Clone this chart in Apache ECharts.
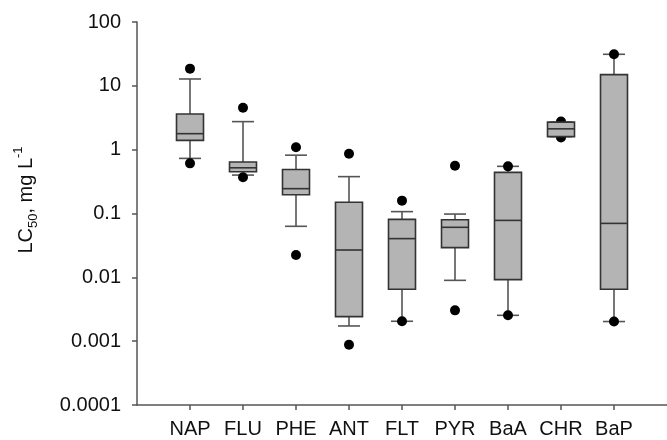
<!DOCTYPE html>
<html>
<head>
<meta charset="utf-8">
<script src="https://cdn.jsdelivr.net/npm/echarts@6/dist/echarts.min.js"></script>
<style>html,body{margin:0;padding:0;background:#fff;}#chart{width:667px;height:440px;}</style>
</head>
<body>
<div id="chart"></div>
<script>
const categories = ['NAP','FLU','PHE','ANT','FLT','PYR','BaA','CHR','BaP'];
const whiskerLow  = [0.73, 0.40, 0.063, 0.00173, 0.00205, 0.00897, 0.00254, 1.60, 0.00203];
const q1          = [1.40, 0.45, 0.197, 0.00242, 0.00649, 0.0292, 0.0092, 1.60, 0.00649];
const median      = [1.78, 0.52, 0.245, 0.0268, 0.0404, 0.0608, 0.078, 2.12, 0.070];
const q3          = [3.62, 0.64, 0.49, 0.150, 0.081, 0.080, 0.441, 2.70, 14.96];
const whiskerHigh = [12.8, 2.75, 0.82, 0.378, 0.107, 0.098, 0.548, 2.70, 31.2];
const outlierLow  = [0.61, 0.37, 0.0224, 0.00088, 0.00205, 0.00304, 0.00254, 1.55, 0.00203];
const outlierHigh = [18.6, 4.55, 1.09, 0.865, 0.159, 0.561, 0.548, 2.77, 31.2];
const yTickLabels = ['0.0001','0.001','0.01','0.1','1','10','100'];

const positions = categories.map((c, i) => i + 1);
const whiskerData = categories.map((c, i) => [i + 1, whiskerLow[i], q1[i], q3[i], whiskerHigh[i]]);
const boxData = categories.map((c, i) => [i + 1, q1[i], median[i], q3[i]]);
const dotData = [];
categories.forEach((c, i) => { dotData.push([i + 1, outlierLow[i]]); dotData.push([i + 1, outlierHigh[i]]); });

const chart = echarts.init(document.getElementById('chart'), null, {renderer: 'canvas'});
const FONT = 'Liberation Sans, Arial, sans-serif';

function renderWhisker(params, api) {
  const x = api.value(0);
  const lo = api.coord([x, api.value(1)]);
  const a = api.coord([x, api.value(2)]);
  const b = api.coord([x, api.value(3)]);
  const hi = api.coord([x, api.value(4)]);
  const hw = 11;
  const style = {stroke: '#555', lineWidth: 1.6};
  return {type: 'group', children: [
    {type: 'line', shape: {x1: lo[0], y1: lo[1], x2: a[0], y2: a[1]}, style},
    {type: 'line', shape: {x1: b[0], y1: b[1], x2: hi[0], y2: hi[1]}, style},
    {type: 'line', shape: {x1: lo[0] - hw, y1: lo[1], x2: lo[0] + hw, y2: lo[1]}, style},
    {type: 'line', shape: {x1: hi[0] - hw, y1: hi[1], x2: hi[0] + hw, y2: hi[1]}, style}
  ]};
}
function renderBox(params, api) {
  const x = api.value(0);
  const bot = api.coord([x, api.value(1)]);
  const med = api.coord([x, api.value(2)]);
  const top = api.coord([x, api.value(3)]);
  const hw = 13.5;
  return {type: 'group', children: [
    {type: 'rect', shape: {x: top[0] - hw, y: top[1], width: hw * 2, height: bot[1] - top[1]},
      style: {fill: '#b4b4b4', stroke: '#333', lineWidth: 1.6}},
    {type: 'line', shape: {x1: med[0] - hw, y1: med[1], x2: med[0] + hw, y2: med[1]},
      style: {stroke: '#333', lineWidth: 1.6}}
  ]};
}

chart.setOption({
  animation: false,
  backgroundColor: '#fff',
  grid: {left: 137, right: -5, top: 22, bottom: 35, containLabel: false},
  xAxis: {
    type: 'value', min: 0, max: 10, interval: 1,
    axisLine: {show: true, lineStyle: {color: '#555', width: 1.5}},
    axisTick: {show: true, length: 5, customValues: positions, lineStyle: {color: '#555', width: 1.5}},
    axisLabel: {customValues: positions, margin: 14, color: '#111', fontSize: 20, fontFamily: FONT,
      formatter: v => categories[Math.round(v) - 1] || ''},
    splitLine: {show: false}
  },
  yAxis: {
    type: 'log', logBase: 10, min: 0.0001, max: 100, interval: 1,
    axisLine: {show: true, lineStyle: {color: '#555', width: 1.5}},
    axisTick: {show: true, length: 5, lineStyle: {color: '#555', width: 1.5}},
    axisLabel: {margin: 16, color: '#111', fontSize: 20, fontFamily: FONT,
      formatter: v => yTickLabels[Math.round(Math.log10(v)) + 4]},
    minorTick: {show: false},
    splitLine: {show: false}
  },
  graphic: [{
    type: 'text', x: 26, y: 200, rotation: Math.PI / 2,
    style: {
      text: 'LC{sub|50}, mg L{sup|-1}',
      fill: '#111', font: '20px ' + FONT, align: 'center', verticalAlign: 'middle',
      lineHeight: 28,
      rich: {
        sub: {fontSize: 13, fontFamily: FONT, fill: '#111', verticalAlign: 'bottom', lineHeight: 13},
        sup: {fontSize: 13, fontFamily: FONT, fill: '#111', verticalAlign: 'top', lineHeight: 13}
      }
    }
  }],
  series: [
    {type: 'custom', name: 'whiskers', z: 1, renderItem: renderWhisker, data: whiskerData,
      encode: {x: 0, y: [1, 2, 3, 4]}, clip: false},
    {type: 'scatter', name: 'percentiles', z: 2, data: dotData, symbol: 'circle', symbolSize: 10,
      itemStyle: {color: '#000', opacity: 1}},
    {type: 'custom', name: 'boxes', z: 3, renderItem: renderBox, data: boxData,
      encode: {x: 0, y: [1, 2, 3]}, clip: false}
  ]
});
</script>
</body>
</html>
